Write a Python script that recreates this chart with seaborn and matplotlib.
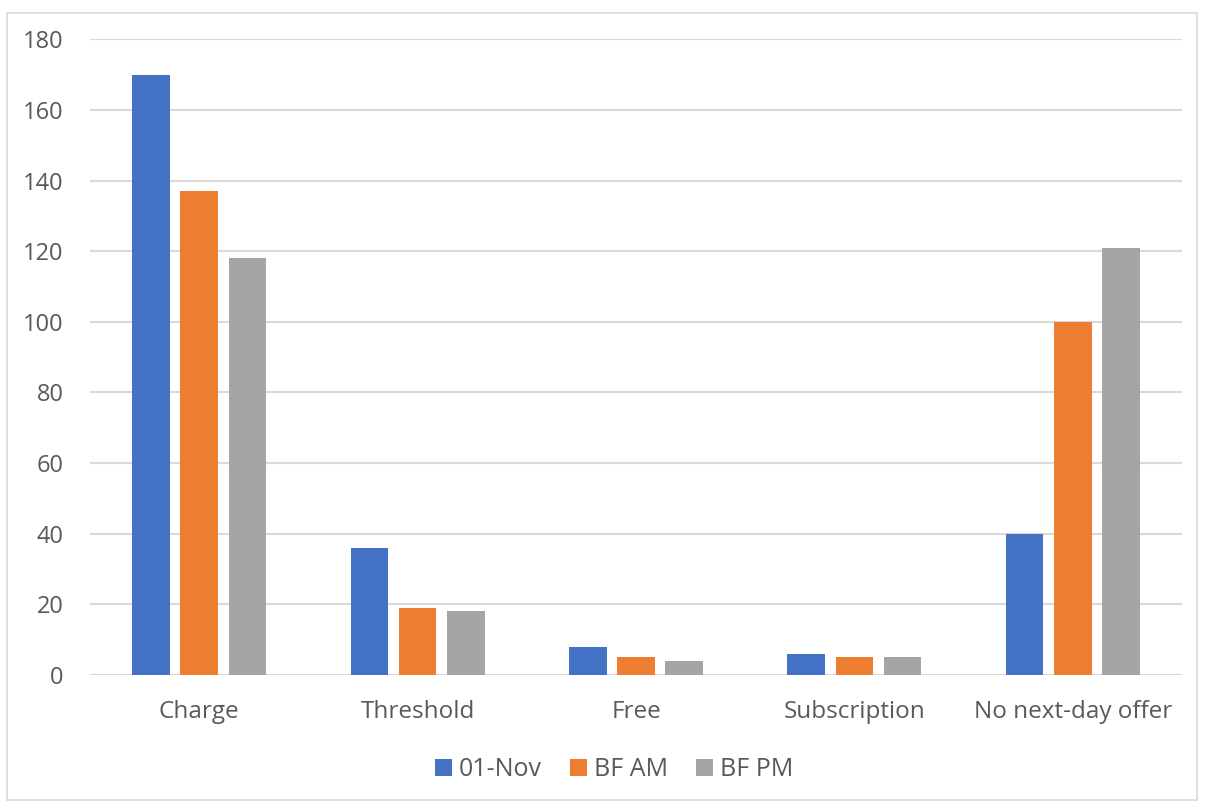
import matplotlib
matplotlib.use("Agg")
import matplotlib.pyplot as plt
from matplotlib.patches import Patch, Rectangle
import pandas as pd
import seaborn as sns

categories = ["Charge", "Threshold", "Free", "Subscription", "No next-day offer"]
series_names = ["01-Nov", "BF AM", "BF PM"]
nov01 = [170, 36, 8, 6, 40]
bf_am = [137, 19, 5, 5, 100]
bf_pm = [118, 18, 4, 5, 121]
y_ticks = [0, 20, 40, 60, 80, 100, 120, 140, 160, 180]

colors = ["#4472C4", "#ED7D31", "#A5A5A5"]
text_color = "#595959"
grid_color = "#D9D9D9"

rows = []
for name, vals in zip(series_names, [nov01, bf_am, bf_pm]):
    for cat, v in zip(categories, vals):
        rows.append({"category": cat, "series": name, "value": v})
df = pd.DataFrame(rows)

sns.set_theme(style="white")
plt.rcParams["font.family"] = ["Open Sans", "DejaVu Sans"]

fig = plt.figure(figsize=(12.05, 8.06), dpi=100)
ax = fig.add_axes([90 / 1205, 1 - 675 / 806, (1182 - 90) / 1205, (675 - 39.3) / 806])

sns.barplot(data=df, x="category", y="value", hue="series", order=categories,
            hue_order=series_names, palette=colors, width=0.663, gap=0.22,
            saturation=1, linewidth=0, legend=False, ax=ax, zorder=3)

ax.set_ylim(0, 180)
ax.set_xlim(-0.5, len(categories) - 0.5)
ax.set_yticks(y_ticks)
ax.yaxis.grid(True, color=grid_color, linewidth=1.5, zorder=0)
ax.xaxis.grid(False)
for s in ax.spines.values():
    s.set_visible(False)
ax.set_xlabel("")
ax.set_ylabel("")
ax.tick_params(axis="y", length=0, pad=19, labelsize=17, labelcolor=text_color)
ax.tick_params(axis="x", length=0, pad=18, labelsize=17.5, labelcolor=text_color)

handles = [Patch(facecolor=c, edgecolor="none", label=n) for c, n in zip(colors, series_names)]
fig.legend(handles=handles, loc="center", bbox_to_anchor=(614 / 1205, 1 - 770 / 806),
           ncol=3, frameon=False, fontsize=18, labelcolor=text_color,
           handlelength=0.68, handleheight=0.68, handletextpad=0.3, columnspacing=1.1)

fig.patches.append(Rectangle((7 / 1205, 6 / 806), 1190 / 1205, 787 / 806,
                             transform=fig.transFigure, fill=False,
                             edgecolor=grid_color, linewidth=1.2))

fig.savefig("out.png", dpi=100, facecolor="white")
